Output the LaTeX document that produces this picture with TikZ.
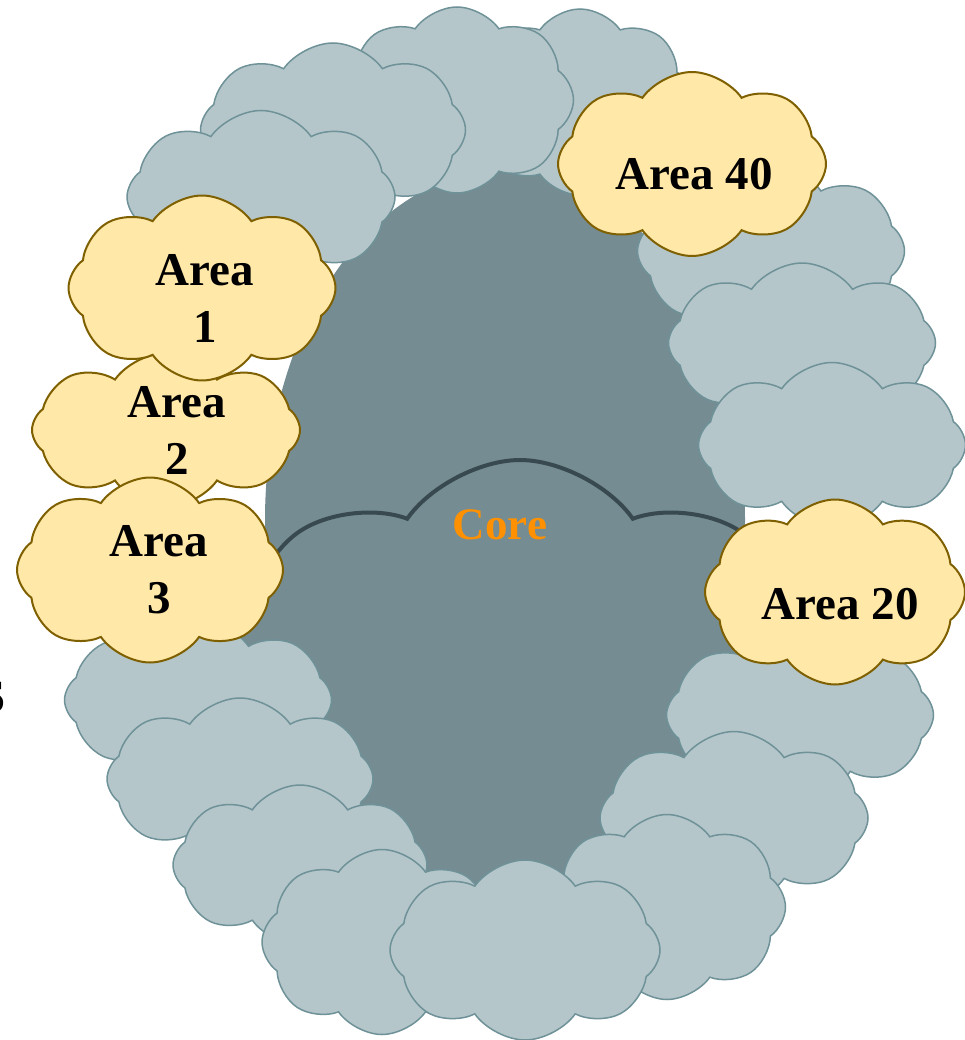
\documentclass[tikz,border=0pt]{standalone}
\usepackage{fontspec}
\setmainfont{Liberation Serif}
\usetikzlibrary{shapes.symbols}

\definecolor{ringfill}{RGB}{180,198,202}
\definecolor{ringline}{RGB}{110,146,152}
\definecolor{corefill}{RGB}{117,140,147}
\definecolor{coreline}{RGB}{56,74,79}
\definecolor{areafill}{RGB}{255,232,168}
\definecolor{arealine}{RGB}{127,96,0}
\definecolor{coretext}{RGB}{255,145,0}

\begin{document}
\begin{tikzpicture}[
  x=1pt,y=-1pt,
  puff/.style={cloud,cloud puffs=8,cloud puff arc=110,cloud ignores aspect,inner sep=0pt},
  ringcloud/.style={puff,fill=ringfill,draw=ringline,line width=1.5pt},
  areacloud/.style={puff,fill=areafill,draw=arealine,line width=2pt},
  corecloud/.style={puff,fill=corefill,draw=coreline,line width=4pt},
  areatext/.style={font=\fontsize{47pt}{57pt}\selectfont\bfseries,align=center,inner sep=0pt}
]
\useasboundingbox (0,0) rectangle (965,1040);

% dark interior and the core
\fill[corefill] (505,520) ellipse [x radius=240, y radius=350];
\node[corecloud,minimum width=625pt,minimum height=490pt] (core) at (520,705) {};

% ring of grey clouds, back to front
\node[ringcloud,minimum width=225pt,minimum height=186pt] (top4) at (580,102) {};
\node[ringcloud,minimum width=233pt,minimum height=186pt] (top3) at (457,100) {};
\node[ringcloud,minimum width=265pt,minimum height=174pt] (top2) at (333,130) {};
\node[ringcloud,minimum width=268pt,minimum height=173pt] (top1) at (261,197) {};
\node[ringcloud,minimum width=267pt,minimum height=172pt] (right1) at (771,251) {};
\node[ringcloud,minimum width=267pt,minimum height=160pt] (right2) at (802,343) {};
\node[ringcloud,minimum width=267pt,minimum height=165pt] (right3) at (832,445) {};
\node[ringcloud,minimum width=267pt,minimum height=165pt] (right4) at (800,715) {};
\node[ringcloud,minimum width=268pt,minimum height=173pt] (right5) at (734,818) {};
\node[ringcloud,minimum width=237pt,minimum height=185pt] (right6) at (667,907) {};
\node[ringcloud,minimum width=267pt,minimum height=160pt] (left1) at (198,700) {};
\node[ringcloud,minimum width=266pt,minimum height=162pt] (left2) at (240,779) {};
\node[ringcloud,minimum width=254pt,minimum height=160pt] (left3) at (300,865) {};
\node[ringcloud,minimum width=240pt,minimum height=185pt] (left4) at (382,942) {};
\node[ringcloud,minimum width=270pt,minimum height=180pt] (bottom) at (525,950) {};

% the areas
\node[areacloud,minimum width=268pt,minimum height=154pt] (area2) at (166,430) {};
\node[areacloud,minimum width=267pt,minimum height=185pt] (area1) at (202,288) {};
\node[areacloud,minimum width=266pt,minimum height=185pt] (area3) at (150,570) {};
\node[areacloud,minimum width=268pt,minimum height=184pt] (area40) at (692,164) {};
\node[areacloud,minimum width=260pt,minimum height=185pt] (area20) at (835,592) {};

\node[areatext] (area1txt) at (205,298) {Area\\1};
\node[areatext] (area2txt) at (177,430) {Area\\2};
\node[areatext] (area3txt) at (159,570) {Area\\3};
\node[areatext] (area40txt) at (694,174) {Area 40};
\node[areatext] (area20txt) at (840,604) {Area 20};
\node[areatext,text=coretext,font=\fontsize{45pt}{54pt}\selectfont\bfseries] (coretxt) at (500,525) {Core};

% cut-off letter at the left edge
\node[areatext,anchor=east] (edge) at (6,697) {S};
\end{tikzpicture}
\end{document}
